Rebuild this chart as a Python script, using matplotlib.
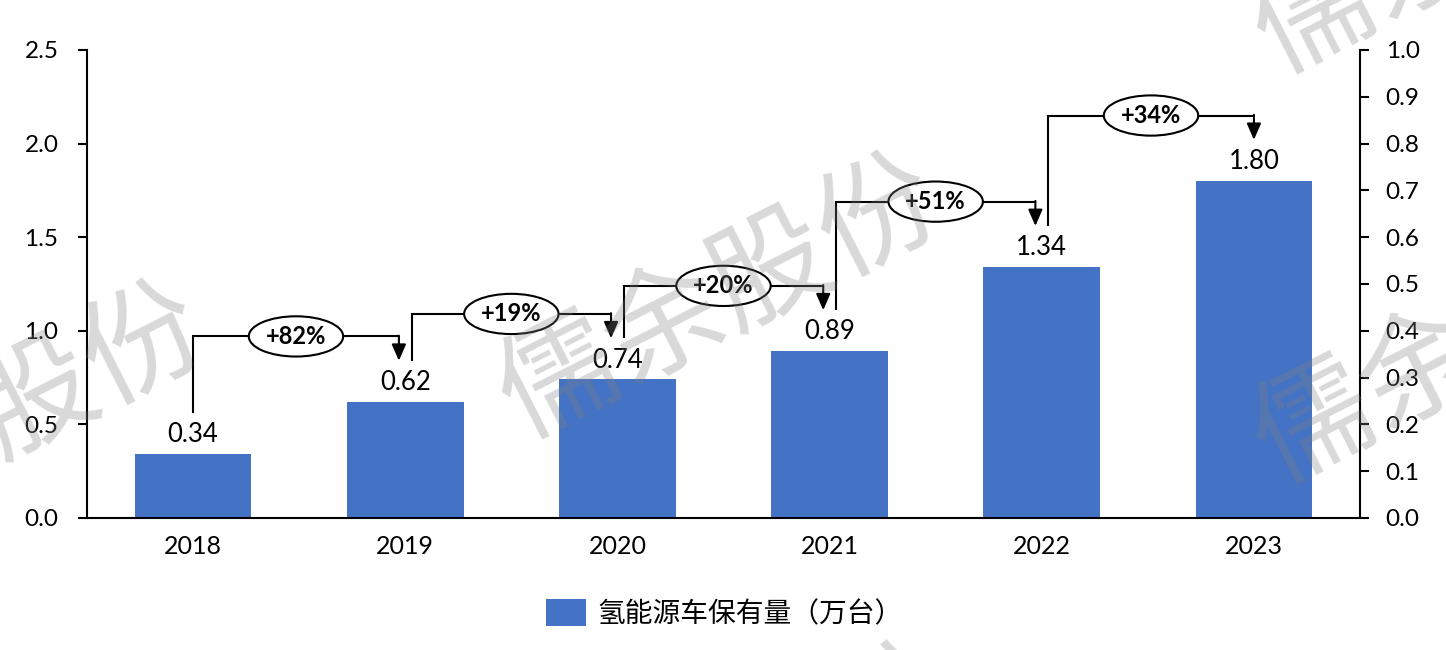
import numpy as np
import matplotlib
matplotlib.use("Agg")
import matplotlib.pyplot as plt
from matplotlib.patches import Ellipse
from matplotlib.ticker import FormatStrFormatter

# ---- data ----
years = ["2018", "2019", "2020", "2021", "2022", "2023"]
values = [0.34, 0.62, 0.74, 0.89, 1.34, 1.80]
growth_labels = ["+82%", "+19%", "+20%", "+51%", "+34%"]
series_name = "氢能源车保有量（万台）"
left_ticks = [0.0, 0.5, 1.0, 1.5, 2.0, 2.5]
right_ticks = [0.0, 0.1, 0.2, 0.3, 0.4, 0.5, 0.6, 0.7, 0.8, 0.9, 1.0]
watermark = "儒余股份"

plt.rcParams['font.family'] = ['Lato', 'Noto Sans CJK SC', 'DejaVu Sans']

W, H = 1446, 650
fig = plt.figure(figsize=(W / 100, H / 100), dpi=100)
ax = fig.add_axes([87 / W, 1 - 518 / H, (1360 - 87) / W, (518 - 50) / H])

BLUE = "#4472C4"
x = np.arange(len(years))
bars = ax.bar(x, values, width=0.55, color=BLUE, zorder=2, label=series_name)

ax.set_xlim(-0.5, len(years) - 0.5)
ax.set_ylim(0, 2.5)
ax.set_yticks(left_ticks)
ax.yaxis.set_major_formatter(FormatStrFormatter('%.1f'))
ax.set_xticks(x)
ax.set_xticklabels(years)
ax.tick_params(axis='x', length=0, pad=12, labelsize=18)
ax.tick_params(axis='y', direction='out', length=6.5, width=1.5, pad=14, labelsize=17.5)
for s in ['top', 'right']:
    ax.spines[s].set_visible(False)
for s in ['left', 'bottom']:
    ax.spines[s].set_linewidth(1.5)

ax2 = ax.twinx()
ax2.set_ylim(0, 1.0)
ax2.set_yticks(right_ticks)
ax2.yaxis.set_major_formatter(FormatStrFormatter('%.1f'))
ax2.tick_params(axis='y', direction='out', length=6.5, width=1.5, pad=12, labelsize=17.5)
for s in ['top', 'left', 'bottom']:
    ax2.spines[s].set_visible(False)
ax2.spines['right'].set_linewidth(1.5)

# data labels
for xi, v in zip(x, values):
    ax.annotate(f"{v:.2f}", xy=(xi, v), xytext=(0, 5), textcoords='offset points',
                ha='center', va='bottom', fontsize=18.5, color='black', zorder=5)

# growth brackets
n = len(values)
for i in range(n - 1):
    xs = x[i] + (0.03 if i > 0 else 0.0)
    xe = x[i + 1] - (0.03 if i + 1 < n - 1 else 0.0)
    y0 = values[i] + 0.22
    yh = values[i + 1] + 0.35
    ytip = values[i + 1] + 0.22
    ax.plot([xs, xs, xe], [y0, yh, yh], color='black', lw=1.5, zorder=3,
            solid_joinstyle='miter', solid_capstyle='butt')
    ax.annotate('', xy=(xe, ytip), xytext=(xe, yh + 0.004),
                arrowprops=dict(arrowstyle='-|>,head_length=0.55,head_width=0.24',
                                color='black', lw=1.5, mutation_scale=18,
                                shrinkA=0, shrinkB=0), zorder=3)
    xm = (xs + xe) / 2
    ax.add_patch(Ellipse((xm, yh), width=0.445, height=0.215, facecolor='white',
                         edgecolor='black', lw=1.5, zorder=4))
    ax.text(xm, yh, growth_labels[i], ha='center', va='center', fontsize=17,
            fontweight='bold', zorder=5)

# legend
fig.legend(handles=[bars], labels=[series_name], loc='center',
           bbox_to_anchor=(724 / W, 1 - 613 / H), frameon=False, fontsize=20,
           handlelength=1.45, handleheight=1.15, handletextpad=0.4)

# watermarks
for cx, cy in [(720, 300), (-15, 428), (1475, 345), (1475, -65), (730, 790)]:
    fig.text(cx / W, 1 - cy / H, watermark, fontsize=86, color='#808080', alpha=0.3,
             rotation=27, rotation_mode='anchor', ha='center', va='center',
             family=['Noto Sans CJK SC'], zorder=10)

fig.savefig("out.png", dpi=100)
